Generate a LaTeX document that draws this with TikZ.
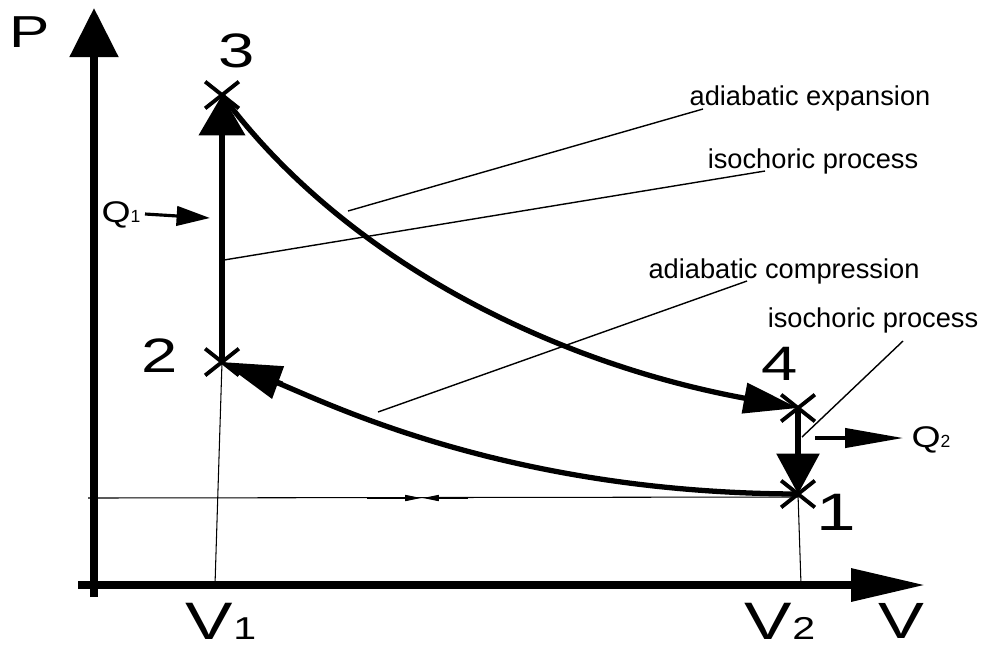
\documentclass[tikz,border=0pt]{standalone}
\usepackage{fontspec}
\setmainfont{Liberation Sans}
\usepackage{graphicx}
\usetikzlibrary{arrows.meta,shapes.misc}
\newcommand\hstr[2]{\scalebox{#1}[1]{#2}}
\begin{document}
\begin{tikzpicture}[x=0.02cm,y=-0.02cm,
  axis/.style={line width=4.2pt},
  proc/.style={line width=3pt},
  thinline/.style={line width=0.6pt},
  note/.style={line width=0.8pt},
  ptmark/.style={cross out, draw, line width=2.2pt, minimum width=17pt, minimum height=13pt, inner sep=0pt},
  big/.style={anchor=base, inner sep=0pt, font=\fontsize{27.5}{30}\selectfont},
  lab/.style={anchor=base, inner sep=0pt, font=\fontsize{15.5}{18}\selectfont},
  heat/.style={line width=1.8pt},
]
\useasboundingbox (0,0) rectangle (982,650);

% state points
\node[ptmark] (p3) at (222,95) {};
\node[ptmark] (p2) at (222,362) {};
\node[ptmark] (p4) at (798,408) {};
\node[ptmark] (p1) at (798,494) {};

% axes
\coordinate (o) at (94,597);
\coordinate (ytop) at (94,8);
\coordinate (xl) at (78,585);
\coordinate (xr) at (925,585);
\draw[axis,-{Triangle[length=28pt,width=27pt]}] (o) -- (ytop);
\draw[axis,-{Triangle[length=42pt,width=18pt]}] (xl) -- (xr);

% thin guide lines
\coordinate (v1) at (215,585);
\coordinate (v2) at (801,585);
\draw[thinline] (p2.center) -- (v1);
\draw[thinline] (p1.center) -- (v2);
\coordinate (h0) at (88,498);
\coordinate (h1) at (798,497);
\draw[thinline] (h0) -- (h1);
\coordinate (ha) at (367,498);
\coordinate (hb) at (421,498);
\coordinate (hc) at (468,498);
\coordinate (hd) at (423,498);
\draw[thinline,-{Triangle[length=9pt,width=3.5pt]}] (ha) -- (hb);
\draw[thinline,-{Triangle[length=9pt,width=3.5pt]}] (hc) -- (hd);

% processes
\draw[proc,-{Triangle[length=23pt,width=26pt]}] (p2.center) -- (p3.center);
\draw[proc,-{Triangle[length=31pt,width=17pt]}] (p3.center) .. controls (342,257) and (548,362) .. (p4.center);
\draw[proc,-{Triangle[length=23pt,width=24pt]}] (p4.center) -- (p1.center);
\draw[proc,shorten >=30pt] (p1.center) .. controls (497,493) and (316,397) .. (p2.center);
\coordinate (c2) at (282,384);
\draw[proc,-{Triangle[length=34pt,width=19pt]}] (c2) -- (p2.center);

% annotations
\node[lab] (t1) at (810,105) {adiabatic expansion};
\node[lab] (t2) at (813,168) {isochoric process};
\node[lab] (t3) at (784,278) {adiabatic compression};
\node[lab] (t4) at (873,327) {isochoric process};
\coordinate (a1) at (703,109); \coordinate (b1) at (348,211);
\coordinate (a2) at (765,171); \coordinate (b2) at (224,260);
\coordinate (a3) at (747,281); \coordinate (b3) at (378,412);
\coordinate (a4) at (903,341); \coordinate (b4) at (802,437);
\draw[note] (a1) -- (b1);
\draw[note] (a2) -- (b2);
\draw[note] (a3) -- (b3);
\draw[note] (a4) -- (b4);

% heat flows
\node[anchor=base, inner sep=0pt] (q1) at (121,222) {\hstr{1.25}{\fontsize{17}{19}\selectfont Q}{\fontsize{10}{11}\selectfont 1}};
\coordinate (q1a) at (145,214); \coordinate (q1b) at (210,218);
\draw[heat,-{Triangle[length=19pt,width=11pt]}] (q1a) -- (q1b);
\node[anchor=base, inner sep=0pt] (q2) at (931,447) {\hstr{1.25}{\fontsize{17}{19}\selectfont Q}{\fontsize{10}{11}\selectfont 2}};
\coordinate (q2a) at (815,438); \coordinate (q2b) at (903,438);
\draw[heat,-{Triangle[length=33pt,width=11pt]}] (q2a) -- (q2b);

% big labels
\node[big, font=\fontsize{25.5}{28}\selectfont] (lp) at (30,47) {\hstr{1.35}{P}};
\node[big] (l3) at (237,67) {\hstr{1.35}{3}};
\node[big] (l2) at (160,372) {\hstr{1.35}{2}};
\node[big] (l4) at (780,380) {\hstr{1.35}{4}};
\node[big, font=\fontsize{30}{32}\selectfont] (l1) at (836,530) {\hstr{1.35}{1}};
\node[anchor=base, inner sep=0pt] (lv1) at (221,639) {\hstr{1.35}{\fontsize{30}{32}\selectfont V}\hstr{1.3}{\fontsize{18}{20}\selectfont 1}};
\node[anchor=base, inner sep=0pt] (lv2) at (780,639) {\hstr{1.35}{\fontsize{30}{32}\selectfont V}\hstr{1.3}{\fontsize{18}{20}\selectfont 2}};
\node[anchor=base, inner sep=0pt] (lv) at (901,638) {\hstr{1.35}{\fontsize{29}{31}\selectfont V}};
\end{tikzpicture}
\end{document}
